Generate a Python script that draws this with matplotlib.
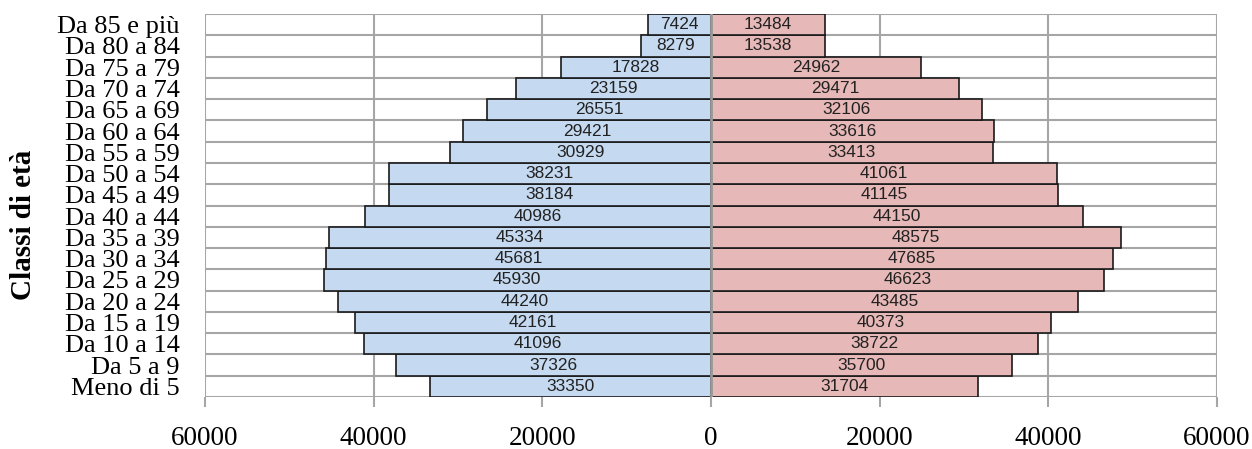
import matplotlib.pyplot as plt
import numpy as np

# age classes, bottom to top
classi = ['Meno di 5', 'Da 5 a 9', 'Da 10 a 14', 'Da 15 a 19', 'Da 20 a 24',
          'Da 25 a 29', 'Da 30 a 34', 'Da 35 a 39', 'Da 40 a 44', 'Da 45 a 49',
          'Da 50 a 54', 'Da 55 a 59', 'Da 60 a 64', 'Da 65 a 69', 'Da 70 a 74',
          'Da 75 a 79', 'Da 80 a 84', 'Da 85 e più']
maschi = [33350, 37326, 41096, 42161, 44240, 45930, 45681, 45334, 40986, 38184,
          38231, 30929, 29421, 26551, 23159, 17828, 8279, 7424]
femmine = [31704, 35700, 38722, 40373, 43485, 46623, 47685, 48575, 44150, 41145,
           41061, 33413, 33616, 32106, 29471, 24962, 13538, 13484]
xticks = [-60000, -40000, -20000, 0, 20000, 40000, 60000]

serif = ['Liberation Serif', 'DejaVu Serif']
sans = ['Liberation Sans', 'DejaVu Sans']

fig = plt.figure(figsize=(12.52, 4.49), dpi=100)
ax = fig.add_axes([0.1637, 0.1158, 0.8083, 0.8530])

y = np.arange(len(classi))
ax.barh(y, [-m for m in maschi], height=1.0, color='#C5D9F0', edgecolor='#1a1a1a', linewidth=1.2, zorder=2)
ax.barh(y, femmine, height=1.0, color='#E6B8B7', edgecolor='#1a1a1a', linewidth=1.2, zorder=2)

for i in range(len(classi)):
    ax.text(-maschi[i] / 2, y[i], str(maschi[i]), ha='center', va='center',
            fontsize=12.5, family=sans, color='#222222', zorder=4)
    ax.text(femmine[i] / 2, y[i], str(femmine[i]), ha='center', va='center',
            fontsize=12.5, family=sans, color='#222222', zorder=4)

# gridlines: horizontal at category boundaries, vertical at ticks
for b in np.arange(-0.5, len(classi), 1.0):
    ax.axhline(b, color='#A6A6A6', linewidth=1.5, zorder=1)
for t in xticks:
    ax.axvline(t, color='#A6A6A6', linewidth=1.5, zorder=1)
ax.axvline(0, color='#999999', linewidth=2, zorder=3)

ax.set_xlim(-60000, 60000)
ax.set_ylim(-0.5, len(classi) - 0.5)
ax.set_xticks(xticks)
ax.set_xticklabels([str(abs(t)) for t in xticks], family=serif, fontsize=19.5)
ax.set_yticks(y)
ax.set_yticklabels(classi, family=serif, fontsize=19)
ax.tick_params(axis='x', length=7, width=1.5, color='#A6A6A6', pad=14)
ax.tick_params(axis='y', length=0, pad=18)
for s in ax.spines.values():
    s.set_visible(False)

fig.text(0.019, 0.5, 'Classi di età', rotation=90, ha='center', va='center',
         fontsize=21, fontweight='bold', family=serif)

fig.savefig('out.png', dpi=100)
